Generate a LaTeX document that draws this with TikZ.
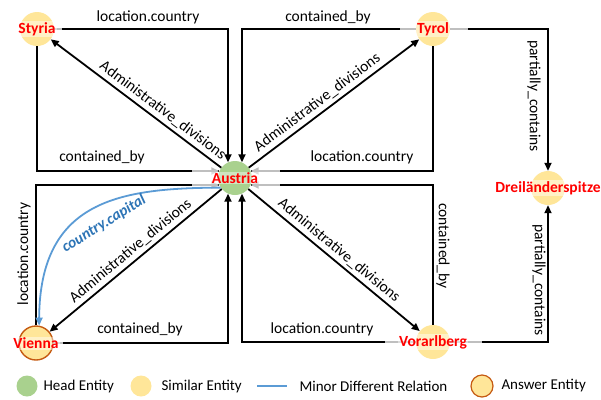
\documentclass[tikz,border=0pt]{standalone}
\usepackage{fontspec}
\setmainfont{Carlito}
\usetikzlibrary{arrows.meta}

\definecolor{headgreen}{HTML}{A9D18E}
\definecolor{simyellow}{HTML}{FFE699}
\definecolor{answerorange}{HTML}{C55A11}
\definecolor{minorblue}{HTML}{5B9BD5}
\definecolor{capblue}{HTML}{2E75B6}
\definecolor{stubgray}{HTML}{BFBFBF}

\begin{document}
\begin{tikzpicture}[x=1pt,y=-1pt,>={Triangle[length=8pt,width=7pt]},
  every node/.style={font=\fontsize{15.5}{18}\selectfont},
  entity/.style={circle,minimum size=34pt,inner sep=0pt,fill=simyellow},
  head/.style={entity,fill=headgreen},
  answer/.style={entity,draw=answerorange,line width=1.4pt},
  ename/.style={text=red,font=\fontsize{15.5}{18}\selectfont\bfseries,
    fill=white,fill opacity=0.45,text opacity=1,inner sep=1pt},
  rel/.style={line width=1.8pt},
  stub/.style={line width=1.8pt,stubgray},
  minor/.style={line width=1.8pt,minorblue},
  legtext/.style={anchor=west,font=\fontsize{15}{17}\selectfont}]

  \useasboundingbox (0,0) rectangle (601,399);

  % entities
  \node[head] (aus) at (235,178) {};
  \node[entity] (sty) at (37,29) {};
  \node[entity] (tyr) at (433,29) {};
  \node[answer] (vie) at (36,343) {};
  \node[entity] (vor) at (433,342) {};
  \node[entity] (dre) at (548,188) {};

  % relations around Styria
  \draw[rel,->] (sty.east) -| (aus.114);
  \draw[stub] (sty.east) -- ++(8,0);
  \draw[rel] (sty.south) |- (aus.156);
  \draw[stub,->] ([xshift=-27]aus.156) -- (aus.156);
  \draw[rel,->] (aus) -- node[pos=0.38,sloped,above] {Administrative\_divisions} (sty);
  \node at (148,17) {location.country};
  \node at (102,157) {contained\_by};

  % relations around Tyrol
  \draw[rel,->] (tyr.west) -| (aus.66);
  \draw[stub] (tyr.west) -- ++(-16,0);
  \draw[rel] (tyr.south) |- (aus.24);
  \draw[stub,->] ([xshift=29]aus.24) -- (aus.24);
  \draw[rel,->] (aus) -- node[pos=0.44,sloped,above] {Administrative\_divisions} (tyr);
  \draw[rel,->] (tyr.east) -| (dre.north);
  \draw[stub] (tyr.east) -- ++(18,0);
  \node at (328,17) {contained\_by};
  \node at (362,157) {location.country};
  \node[rotate=-90] at (534,96) {partially\_contains};

  % relations around Vienna
  \draw[rel,->] (vie.east) -| (aus.246);
  \draw[stub] (vie.east) -- ++(9,0);
  \draw[rel] (vie.north) |- (aus.204);
  \draw[stub,->] ([xshift=-27]aus.204) -- (aus.204);
  \draw[rel,->] (aus) -- node[pos=0.49,sloped,above] {Administrative\_divisions} (vie);
  \draw[minor,->] (aus.214) .. controls (120,188) and (40,200) .. (vie.80);
  \node[rotate=32,text=capblue,font=\fontsize{15.5}{18}\selectfont\bfseries\itshape]
    at (104,224) {country.capital};
  \node[rotate=90] at (24,254) {location.country};
  \node at (140,329) {contained\_by};

  % relations around Vorarlberg
  \draw[rel,->] (vor.west) -| (aus.294);
  \draw[stub] (vor.west) -- ++(-31,0);
  \draw[rel] (vor.north) |- (aus.336);
  \draw[stub,->] ([xshift=29]aus.336) -- (aus.336);
  \draw[rel,->] (aus) -- node[pos=0.49,sloped,above] {Administrative\_divisions} (vor);
  \draw[rel,->] (vor.east) -| (dre.south);
  \draw[stub] (vor.east) -- ++(32,0);
  \node at (322,329) {location.country};
  \node[rotate=-90] at (443,246) {contained\_by};
  \node[rotate=-90] at (539,280) {partially\_contains};

  % entity names
  \node[ename] at (aus) {Austria};
  \node[ename] at (sty) {Styria};
  \node[ename] at (tyr) {Tyrol};
  \node[ename] at (vie) {Vienna};
  \node[ename] at (vor) {Vorarlberg};
  \node[ename] at (dre) {Dreiländerspitze};

  % legend
  \node[head,minimum size=21pt] (lg-head) at (27,386) {};
  \node[legtext] at (40,386) {Head Entity};
  \node[entity,minimum size=21pt] (lg-sim) at (141,386) {};
  \node[legtext] at (158,386) {Similar Entity};
  \coordinate (lg-a) at (257,386);
  \coordinate (lg-b) at (287,386);
  \draw[minor] (lg-a) -- (lg-b);
  \node[legtext] at (296,386) {Minor Different Relation};
  \node[answer,minimum size=22pt,line width=1.2pt] (lg-ans) at (482,386) {};
  \node[legtext] at (498,386) {Answer Entity};
\end{tikzpicture}
\end{document}
